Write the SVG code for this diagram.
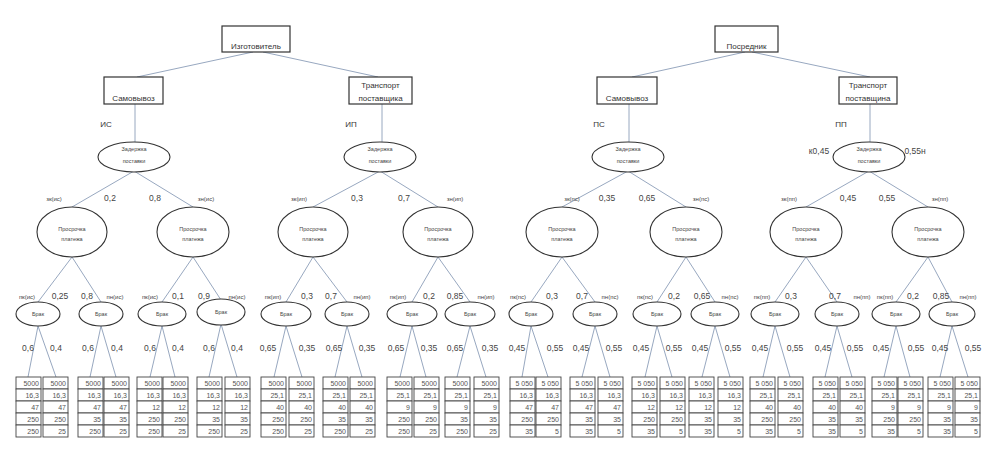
<svg xmlns="http://www.w3.org/2000/svg" width="996" height="450" viewBox="0 0 996 450">
<style>
.bx{fill:#fff;stroke:#333;stroke-width:1.2}
.el{fill:#fff;stroke:#333;stroke-width:1.1}
.ln{stroke:#98a8c0;stroke-width:1;fill:none}
text{font-family:"Liberation Sans",Arial,sans-serif;fill:#333;text-anchor:middle}
.t8{font-size:8px}
.ts{font-size:5.5px;fill:#444}
.lab{font-size:6px;fill:#444}
.num{font-size:8.5px;fill:#444}
.c{fill:#fff;stroke:#444;stroke-width:0.9}
.ct{font-size:7px;text-anchor:end;fill:#555}
</style>
<rect width="996" height="450" fill="#fff"/>
<g id="connectors" class="ln">
<path d="M253 52L137 77M263 52L378 77M135 104V142M382 104V142"/>
<path d="M745 52L632 77M752 52L870 77M629 104V142M870 104V142"/>
<path d="M134 171L72 207M134 171L193 207M380 171L313 207M380 171L438 207M628 171L562 207M628 171L686 207M869 171L806 207M869 171L928 207"/>
<path d="M72 257L38 302M72 257L101 302M193 257L162 302M193 257L221 300M313 257L286 302M313 257L347 302M438 257L412 302M438 257L470 302"/>
<path d="M562 257L531 302M562 257L595 302M686 257L657 302M686 257L715 302M806 257L775 302M806 257L837 302M928 257L896 302M928 257L952 302"/>
<path d="M38 326L28 377M38 326L56 377M101 326L90 377M101 326L116 377M162 326L150 377M162 326L175 377M221 324L209 377M221 324L237 377"/>
<path d="M286 326L274 377M286 326L302 377M347 326L335 377M347 326L362 377M412 326L400 377M412 326L426 377M470 326L457 377M470 326L486 377"/>
<path d="M531 326L522 377M531 326L548 377M595 326L582 377M595 326L610 377M657 326L645 377M657 326L672 377M715 326L702 377M715 326L730 377"/>
<path d="M775 326L763 377M775 326L790 377M837 326L825 377M837 326L852 377M896 326L884 377M896 326L910 377M952 326L940 377M952 326L968 377"/>
</g>
<g id="n-izg"><rect class="bx" x="222" y="26" width="68" height="26"/><text class="t8" x="256" y="48.5">Изготовитель</text></g>
<g id="n-is"><rect class="bx" x="104" y="77" width="59" height="27"/><text class="t8" x="133.5" y="100.5">Самовывоз</text></g>
<g id="n-ip"><rect class="bx" x="349" y="77" width="63" height="27"/><text class="t8" x="380.5" y="88">Транспорт</text><text class="t8" x="380.5" y="100.5">поставщика</text></g>
<g id="n-pos"><rect class="bx" x="715" y="26" width="63" height="26"/><text class="t8" x="746.5" y="48.5">Посредник</text></g>
<g id="n-ps"><rect class="bx" x="597" y="77" width="60" height="27"/><text class="t8" x="627" y="100.5">Самовывоз</text></g>
<g id="n-pp"><rect class="bx" x="839" y="77" width="58" height="27"/><text class="t8" x="868" y="88">Транспорт</text><text class="t8" x="868" y="100.5">поставщина</text></g>
<g id="z-is"><ellipse class="el" cx="134" cy="157" rx="36" ry="15"/><text class="ts" x="134" y="151">Задержка</text><text class="ts" x="134" y="163">поставки</text></g>
<g id="z-ip"><ellipse class="el" cx="380" cy="157" rx="36" ry="15"/><text class="ts" x="380" y="151">Задержка</text><text class="ts" x="380" y="163">поставки</text></g>
<g id="z-ps"><ellipse class="el" cx="628" cy="157" rx="36" ry="15"/><text class="ts" x="628" y="151">Задержка</text><text class="ts" x="628" y="163">поставки</text></g>
<g id="z-pp"><ellipse class="el" cx="869" cy="157" rx="36" ry="15"/><text class="ts" x="869" y="151">Задержка</text><text class="ts" x="869" y="163">поставки</text></g>
<g id="p-is1"><ellipse class="el" cx="72" cy="232" rx="35" ry="25"/><text class="ts" x="72" y="231">Просрочка</text><text class="ts" x="72" y="241">платежа</text></g>
<g id="p-is2"><ellipse class="el" cx="193" cy="232" rx="36" ry="25"/><text class="ts" x="193" y="231">Просрочка</text><text class="ts" x="193" y="241">платежа</text></g>
<g id="p-ip1"><ellipse class="el" cx="313" cy="232" rx="35" ry="25"/><text class="ts" x="313" y="231">Просрочка</text><text class="ts" x="313" y="241">платежа</text></g>
<g id="p-ip2"><ellipse class="el" cx="438" cy="232" rx="35" ry="25"/><text class="ts" x="438" y="231">Просрочка</text><text class="ts" x="438" y="241">платежа</text></g>
<g id="p-ps1"><ellipse class="el" cx="562" cy="232" rx="36" ry="25"/><text class="ts" x="562" y="231">Просрочка</text><text class="ts" x="562" y="241">платежа</text></g>
<g id="p-ps2"><ellipse class="el" cx="686" cy="232" rx="36" ry="25"/><text class="ts" x="686" y="231">Просрочка</text><text class="ts" x="686" y="241">платежа</text></g>
<g id="p-pp1"><ellipse class="el" cx="806" cy="232" rx="36" ry="25"/><text class="ts" x="806" y="231">Просрочка</text><text class="ts" x="806" y="241">платежа</text></g>
<g id="p-pp2"><ellipse class="el" cx="928" cy="232" rx="36" ry="25"/><text class="ts" x="928" y="231">Просрочка</text><text class="ts" x="928" y="241">платежа</text></g>
<g id="b1"><ellipse class="el" cx="38" cy="314" rx="22" ry="12"/><text class="ts" x="38" y="316">Брак</text></g>
<g id="b2"><ellipse class="el" cx="101" cy="314" rx="22" ry="12"/><text class="ts" x="101" y="316">Брак</text></g>
<g id="b3"><ellipse class="el" cx="162" cy="314" rx="24" ry="12"/><text class="ts" x="162" y="316">Брак</text></g>
<g id="b4"><ellipse class="el" cx="221" cy="312" rx="24" ry="13"/><text class="ts" x="221" y="314">Брак</text></g>
<g id="b5"><ellipse class="el" cx="286" cy="314" rx="25" ry="12"/><text class="ts" x="286" y="316">Брак</text></g>
<g id="b6"><ellipse class="el" cx="347" cy="314" rx="22" ry="12"/><text class="ts" x="347" y="316">Брак</text></g>
<g id="b7"><ellipse class="el" cx="412" cy="314" rx="25" ry="12"/><text class="ts" x="412" y="316">Брак</text></g>
<g id="b8"><ellipse class="el" cx="470" cy="314" rx="25" ry="12"/><text class="ts" x="470" y="316">Брак</text></g>
<g id="b9"><ellipse class="el" cx="531" cy="314" rx="22" ry="12"/><text class="ts" x="531" y="316">Брак</text></g>
<g id="b10"><ellipse class="el" cx="595" cy="314" rx="22" ry="12"/><text class="ts" x="595" y="316">Брак</text></g>
<g id="b11"><ellipse class="el" cx="657" cy="314" rx="24" ry="12"/><text class="ts" x="657" y="316">Брак</text></g>
<g id="b12"><ellipse class="el" cx="715" cy="314" rx="24" ry="12"/><text class="ts" x="715" y="316">Брак</text></g>
<g id="b13"><ellipse class="el" cx="775" cy="314" rx="24" ry="12"/><text class="ts" x="775" y="316">Брак</text></g>
<g id="b14"><ellipse class="el" cx="837" cy="314" rx="22" ry="12"/><text class="ts" x="837" y="316">Брак</text></g>
<g id="b15"><ellipse class="el" cx="896" cy="314" rx="24" ry="12"/><text class="ts" x="896" y="316">Брак</text></g>
<g id="b16"><ellipse class="el" cx="952" cy="314" rx="23" ry="12"/><text class="ts" x="952" y="316">Брак</text></g>
<g id="labels">
<text class="t8" x="106" y="127" text-anchor="start">ИС</text>
<text class="t8" x="351" y="127" text-anchor="start">ИП</text>
<text class="t8" x="599" y="127" text-anchor="start">ПС</text>
<text class="t8" x="841" y="127" text-anchor="start">ПП</text>
<text class="num" x="819" y="154">к0,45</text><text class="num" x="915" y="154">0,55н</text>
<text class="lab" x="54" y="200.5">зк(ис)</text><text class="num" x="110" y="201">0,2</text><text class="num" x="155" y="201">0,8</text><text class="lab" x="206" y="200.5">зн(ис)</text>
<text class="lab" x="299" y="200.5">зк(ип)</text><text class="num" x="357" y="201">0,3</text><text class="num" x="404" y="201">0,7</text><text class="lab" x="455" y="200.5">зн(ип)</text>
<text class="lab" x="572" y="200.5">зк(пс)</text><text class="num" x="607" y="201">0,35</text><text class="num" x="647" y="201">0,65</text><text class="lab" x="701" y="200.5">зн(пс)</text>
<text class="lab" x="789" y="200.5">зк(пп)</text><text class="num" x="848" y="201">0,45</text><text class="num" x="887" y="201">0,55</text><text class="lab" x="940" y="200.5">зн(пп)</text>
<text class="lab" x="27" y="298.5">пк(ис)</text><text class="num" x="60" y="299">0,25</text><text class="num" x="87" y="299">0,8</text><text class="lab" x="115" y="298.5">пн(ис)</text>
<text class="lab" x="150" y="298.5">пк(ис)</text><text class="num" x="178" y="299">0,1</text><text class="num" x="204" y="299">0,9</text><text class="lab" x="237" y="298.5">пн(ис)</text>
<text class="lab" x="273" y="298.5">пк(ип)</text><text class="num" x="307" y="299">0,3</text><text class="num" x="331" y="299">0,7</text><text class="lab" x="362" y="298.5">пн(ип)</text>
<text class="lab" x="398" y="298.5">пк(ип)</text><text class="num" x="429" y="299">0,2</text><text class="num" x="455" y="299">0,85</text><text class="lab" x="486" y="298.5">пн(ип)</text>
<text class="lab" x="518" y="298.5">пк(пс)</text><text class="num" x="552" y="299">0,3</text><text class="num" x="582" y="299">0,7</text><text class="lab" x="610" y="298.5">пн(пс)</text>
<text class="lab" x="645" y="298.5">пк(пс)</text><text class="num" x="674" y="299">0,2</text><text class="num" x="702" y="299">0,65</text><text class="lab" x="730" y="298.5">пн(пс)</text>
<text class="lab" x="762" y="298.5">пк(пп)</text><text class="num" x="791" y="299">0,3</text><text class="num" x="835" y="299">0,7</text><text class="lab" x="862" y="298.5">пн(пп)</text>
<text class="lab" x="885" y="298.5">пк(пп)</text><text class="num" x="913" y="299">0,2</text><text class="num" x="941" y="299">0,85</text><text class="lab" x="968" y="298.5">пн(пп)</text>
<text class="num" x="28" y="351">0,6</text><text class="num" x="56" y="351">0,4</text><text class="num" x="88" y="351">0,6</text><text class="num" x="117" y="351">0,4</text>
<text class="num" x="150" y="351">0,6</text><text class="num" x="178" y="351">0,4</text><text class="num" x="209" y="351">0,6</text><text class="num" x="237" y="351">0,4</text>
<text class="num" x="268" y="351">0,65</text><text class="num" x="307" y="351">0,35</text><text class="num" x="334" y="351">0,65</text><text class="num" x="367" y="351">0,35</text>
<text class="num" x="396" y="351">0,65</text><text class="num" x="429" y="351">0,35</text><text class="num" x="455" y="351">0,65</text><text class="num" x="490" y="351">0,35</text>
<text class="num" x="517" y="351">0,45</text><text class="num" x="555" y="351">0,55</text><text class="num" x="581" y="351">0,45</text><text class="num" x="614" y="351">0,55</text>
<text class="num" x="641" y="351">0,45</text><text class="num" x="674" y="351">0,55</text><text class="num" x="700" y="351">0,45</text><text class="num" x="733" y="351">0,55</text>
<text class="num" x="760" y="351">0,45</text><text class="num" x="795" y="351">0,55</text><text class="num" x="823" y="351">0,45</text><text class="num" x="855" y="351">0,55</text>
<text class="num" x="881" y="351">0,45</text><text class="num" x="916" y="351">0,55</text><text class="num" x="940" y="351">0,45</text><text class="num" x="973" y="351">0,55</text>
</g>
<defs>
<g id="cells1"><rect class="c" x="0" y="377" width="25" height="12"/><rect class="c" x="0" y="389" width="25" height="12"/><rect class="c" x="0" y="401" width="25" height="12"/><rect class="c" x="0" y="413" width="25" height="12"/><rect class="c" x="0" y="425" width="25" height="12"/></g>
</defs>
<g id="t1"><use href="#cells1" x="16"/><text class="ct" x="39" y="386">5000</text><text class="ct" x="39" y="398">16,3</text><text class="ct" x="39" y="410">47</text><text class="ct" x="39" y="422">250</text><text class="ct" x="39" y="434">250</text></g>
<g id="t2"><use href="#cells1" x="43"/><text class="ct" x="66" y="386">5000</text><text class="ct" x="66" y="398">16,3</text><text class="ct" x="66" y="410">47</text><text class="ct" x="66" y="422">250</text><text class="ct" x="66" y="434">25</text></g>
<g id="t3"><use href="#cells1" x="78"/><text class="ct" x="101" y="386">5000</text><text class="ct" x="101" y="398">16,3</text><text class="ct" x="101" y="410">47</text><text class="ct" x="101" y="422">35</text><text class="ct" x="101" y="434">250</text></g>
<g id="t4"><use href="#cells1" x="104"/><text class="ct" x="127" y="386">5000</text><text class="ct" x="127" y="398">16,3</text><text class="ct" x="127" y="410">47</text><text class="ct" x="127" y="422">35</text><text class="ct" x="127" y="434">25</text></g>
<g id="t5"><use href="#cells1" x="137"/><text class="ct" x="160" y="386">5000</text><text class="ct" x="160" y="398">16,3</text><text class="ct" x="160" y="410">12</text><text class="ct" x="160" y="422">250</text><text class="ct" x="160" y="434">250</text></g>
<g id="t6"><use href="#cells1" x="163"/><text class="ct" x="186" y="386">5000</text><text class="ct" x="186" y="398">16,3</text><text class="ct" x="186" y="410">12</text><text class="ct" x="186" y="422">250</text><text class="ct" x="186" y="434">25</text></g>
<g id="t7"><use href="#cells1" x="197"/><text class="ct" x="220" y="386">5000</text><text class="ct" x="220" y="398">16,3</text><text class="ct" x="220" y="410">12</text><text class="ct" x="220" y="422">35</text><text class="ct" x="220" y="434">250</text></g>
<g id="t8"><use href="#cells1" x="225"/><text class="ct" x="248" y="386">5000</text><text class="ct" x="248" y="398">16,3</text><text class="ct" x="248" y="410">12</text><text class="ct" x="248" y="422">35</text><text class="ct" x="248" y="434">25</text></g>
<g id="t9"><use href="#cells1" x="261"/><text class="ct" x="284" y="386">5000</text><text class="ct" x="284" y="398">25,1</text><text class="ct" x="284" y="410">40</text><text class="ct" x="284" y="422">250</text><text class="ct" x="284" y="434">250</text></g>
<g id="t10"><use href="#cells1" x="289"/><text class="ct" x="312" y="386">5000</text><text class="ct" x="312" y="398">25,1</text><text class="ct" x="312" y="410">40</text><text class="ct" x="312" y="422">250</text><text class="ct" x="312" y="434">25</text></g>
<g id="t11"><use href="#cells1" x="323"/><text class="ct" x="346" y="386">5000</text><text class="ct" x="346" y="398">25,1</text><text class="ct" x="346" y="410">40</text><text class="ct" x="346" y="422">35</text><text class="ct" x="346" y="434">250</text></g>
<g id="t12"><use href="#cells1" x="350"/><text class="ct" x="373" y="386">5000</text><text class="ct" x="373" y="398">25,1</text><text class="ct" x="373" y="410">40</text><text class="ct" x="373" y="422">35</text><text class="ct" x="373" y="434">25</text></g>
<g id="t13"><use href="#cells1" x="387"/><text class="ct" x="410" y="386">5000</text><text class="ct" x="410" y="398">25,1</text><text class="ct" x="410" y="410">9</text><text class="ct" x="410" y="422">250</text><text class="ct" x="410" y="434">250</text></g>
<g id="t14"><use href="#cells1" x="414"/><text class="ct" x="437" y="386">5000</text><text class="ct" x="437" y="398">25,1</text><text class="ct" x="437" y="410">9</text><text class="ct" x="437" y="422">250</text><text class="ct" x="437" y="434">25</text></g>
<g id="t15"><use href="#cells1" x="445"/><text class="ct" x="468" y="386">5000</text><text class="ct" x="468" y="398">25,1</text><text class="ct" x="468" y="410">9</text><text class="ct" x="468" y="422">35</text><text class="ct" x="468" y="434">250</text></g>
<g id="t16"><use href="#cells1" x="474"/><text class="ct" x="497" y="386">5000</text><text class="ct" x="497" y="398">25,1</text><text class="ct" x="497" y="410">9</text><text class="ct" x="497" y="422">35</text><text class="ct" x="497" y="434">25</text></g>
<g id="t17"><use href="#cells1" x="510"/><text class="ct" x="533" y="386">5 050</text><text class="ct" x="533" y="398">16,3</text><text class="ct" x="533" y="410">47</text><text class="ct" x="533" y="422">250</text><text class="ct" x="533" y="434">35</text></g>
<g id="t18"><use href="#cells1" x="536"/><text class="ct" x="559" y="386">5 050</text><text class="ct" x="559" y="398">16,3</text><text class="ct" x="559" y="410">47</text><text class="ct" x="559" y="422">250</text><text class="ct" x="559" y="434">5</text></g>
<g id="t19"><use href="#cells1" x="570"/><text class="ct" x="593" y="386">5 050</text><text class="ct" x="593" y="398">16,3</text><text class="ct" x="593" y="410">47</text><text class="ct" x="593" y="422">35</text><text class="ct" x="593" y="434">35</text></g>
<g id="t20"><use href="#cells1" x="598"/><text class="ct" x="621" y="386">5 050</text><text class="ct" x="621" y="398">16,3</text><text class="ct" x="621" y="410">47</text><text class="ct" x="621" y="422">35</text><text class="ct" x="621" y="434">5</text></g>
<g id="t21"><use href="#cells1" x="632"/><text class="ct" x="655" y="386">5 050</text><text class="ct" x="655" y="398">16,3</text><text class="ct" x="655" y="410">12</text><text class="ct" x="655" y="422">250</text><text class="ct" x="655" y="434">35</text></g>
<g id="t22"><use href="#cells1" x="660"/><text class="ct" x="683" y="386">5 050</text><text class="ct" x="683" y="398">16,3</text><text class="ct" x="683" y="410">12</text><text class="ct" x="683" y="422">250</text><text class="ct" x="683" y="434">5</text></g>
<g id="t23"><use href="#cells1" x="689"/><text class="ct" x="712" y="386">5 050</text><text class="ct" x="712" y="398">16,3</text><text class="ct" x="712" y="410">12</text><text class="ct" x="712" y="422">35</text><text class="ct" x="712" y="434">35</text></g>
<g id="t24"><use href="#cells1" x="718"/><text class="ct" x="741" y="386">5 050</text><text class="ct" x="741" y="398">16,3</text><text class="ct" x="741" y="410">12</text><text class="ct" x="741" y="422">35</text><text class="ct" x="741" y="434">5</text></g>
<g id="t25"><use href="#cells1" x="750"/><text class="ct" x="773" y="386">5 050</text><text class="ct" x="773" y="398">25,1</text><text class="ct" x="773" y="410">40</text><text class="ct" x="773" y="422">250</text><text class="ct" x="773" y="434">35</text></g>
<g id="t26"><use href="#cells1" x="778"/><text class="ct" x="801" y="386">5 050</text><text class="ct" x="801" y="398">25,1</text><text class="ct" x="801" y="410">40</text><text class="ct" x="801" y="422">250</text><text class="ct" x="801" y="434">5</text></g>
<g id="t27"><use href="#cells1" x="813"/><text class="ct" x="836" y="386">5 050</text><text class="ct" x="836" y="398">25,1</text><text class="ct" x="836" y="410">40</text><text class="ct" x="836" y="422">35</text><text class="ct" x="836" y="434">35</text></g>
<g id="t28"><use href="#cells1" x="840"/><text class="ct" x="863" y="386">5 050</text><text class="ct" x="863" y="398">25,1</text><text class="ct" x="863" y="410">40</text><text class="ct" x="863" y="422">35</text><text class="ct" x="863" y="434">5</text></g>
<g id="t29"><use href="#cells1" x="872"/><text class="ct" x="895" y="386">5 050</text><text class="ct" x="895" y="398">25,1</text><text class="ct" x="895" y="410">9</text><text class="ct" x="895" y="422">250</text><text class="ct" x="895" y="434">35</text></g>
<g id="t30"><use href="#cells1" x="898"/><text class="ct" x="921" y="386">5 050</text><text class="ct" x="921" y="398">25,1</text><text class="ct" x="921" y="410">9</text><text class="ct" x="921" y="422">250</text><text class="ct" x="921" y="434">5</text></g>
<g id="t31"><use href="#cells1" x="928"/><text class="ct" x="951" y="386">5 050</text><text class="ct" x="951" y="398">25,1</text><text class="ct" x="951" y="410">9</text><text class="ct" x="951" y="422">35</text><text class="ct" x="951" y="434">35</text></g>
<g id="t32"><use href="#cells1" x="955"/><text class="ct" x="978" y="386">5 050</text><text class="ct" x="978" y="398">25,1</text><text class="ct" x="978" y="410">9</text><text class="ct" x="978" y="422">35</text><text class="ct" x="978" y="434">5</text></g>
</svg>
